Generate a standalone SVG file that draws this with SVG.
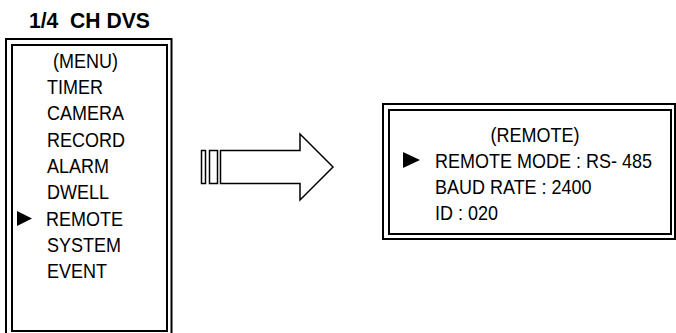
<svg xmlns="http://www.w3.org/2000/svg" width="676" height="333" viewBox="0 0 676 333">
<style>
.bg{fill:#fff}
.frame{fill:none;stroke:#000;stroke-width:2}
.t{font-family:"Liberation Sans",Arial,sans-serif;font-size:21px;fill:#000}
.title{font-family:"Liberation Sans",Arial,sans-serif;font-size:22px;font-weight:bold;fill:#000}
.ptr{fill:#000}
.arrow{fill:#fff;stroke:#000;stroke-width:1.5}
</style>
<rect class="bg" x="0" y="0" width="676" height="333"/>
<text class="title" transform="translate(29,28) scale(0.96,1)" xml:space="preserve">1/4  CH DVS</text>
<g id="menu">
<rect class="frame" x="6" y="39" width="165.5" height="300"/>
<rect class="frame" x="12" y="45" width="155" height="286"/>
<text class="t" transform="translate(85.5,67.5) scale(0.857,1)" text-anchor="middle">(MENU)</text>
<text class="t" transform="translate(47,94) scale(0.857,1)">TIMER</text>
<text class="t" transform="translate(47,120.3) scale(0.857,1)">CAMERA</text>
<text class="t" transform="translate(47,146.6) scale(0.857,1)">RECORD</text>
<text class="t" transform="translate(47,172.9) scale(0.857,1)">ALARM</text>
<text class="t" transform="translate(47,199.2) scale(0.857,1)">DWELL</text>
<polygon class="ptr" points="17,211 17,226 32,218.5"/>
<text class="t" transform="translate(46,225.5) scale(0.857,1)">REMOTE</text>
<text class="t" transform="translate(47,251.8) scale(0.857,1)">SYSTEM</text>
<text class="t" transform="translate(47,278.1) scale(0.857,1)">EVENT</text>
</g>
<g id="connectors">
<rect class="arrow" x="201.5" y="150.5" width="4" height="33"/>
<rect class="arrow" x="209.5" y="150.5" width="8" height="33"/>
<polygon class="arrow" points="220.5,150.5 300,150.5 300,134 333,167 300,200 300,183.5 220.5,183.5"/>
</g>
<g id="remote">
<rect class="frame" x="383" y="104" width="292" height="135"/>
<rect class="frame" x="389" y="110" width="282" height="124"/>
<text class="t" transform="translate(535,142) scale(0.857,1)" text-anchor="middle">(REMOTE)</text>
<polygon class="ptr" points="403,152 403,168 420,160"/>
<text class="t" transform="translate(435,168) scale(0.857,1)">REMOTE MODE : RS- 485</text>
<text class="t" transform="translate(435,194) scale(0.857,1)">BAUD RATE : 2400</text>
<text class="t" transform="translate(435,220) scale(0.857,1)">ID : 020</text>
</g>
</svg>
